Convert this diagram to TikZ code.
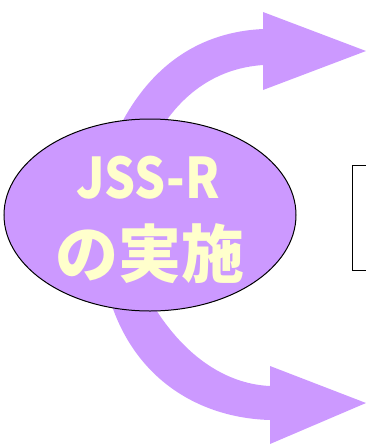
\documentclass[tikz,border=0pt]{standalone}
\usepackage{fontspec}
\newfontfamily\cjk{Noto Sans CJK JP}
\usetikzlibrary{shapes.geometric}
\definecolor{lav}{HTML}{CC99FF}
\definecolor{ltyel}{HTML}{FFFFCC}
\tikzset{
  band/.style={fill=lav, draw=none},
  oval/.style={ellipse, draw=black, line width=1pt, fill=lav, minimum width=292pt, minimum height=192pt, inner sep=0pt},
  lbl/.style={text=ltyel, font=\cjk\bfseries, inner sep=0pt, anchor=base}
}
\begin{document}
\begin{tikzpicture}[x=1pt,y=-1pt]
\useasboundingbox (0,0) rectangle (366,448);
\clip (0,0) rectangle (366,448);
% top arrow
\fill[band] (263,29) .. controls (200,32) and (150,65) .. (118,130)
  -- (160,130) .. controls (185,90) and (220,68) .. (263,65)
  -- (263,90) -- (366,51) -- (263,12) -- cycle;
% bottom arrow
\fill[band] (110,300) .. controls (135,380) and (200,418) .. (270,420)
  -- (270,444) -- (366,403) -- (270,366) -- (270,386)
  .. controls (225,384) and (182,355) .. (150,300) -- cycle;
% ellipse
\node[oval] (ell) at (150,215) {};
\node[lbl, font=\cjk\bfseries\fontsize{56}{60}\selectfont] (t1) at (148,198) {\scalebox{0.87}[1]{JSS-R}};
\node[lbl, font=\cjk\bfseries\fontsize{63}{66}\selectfont] (t2) at (150,277) {の実施};
% box at right
\node[draw=black, line width=1pt, minimum width=40pt, minimum height=105pt, inner sep=0pt, anchor=north west] (box) at (352,165) {};
\end{tikzpicture}
\end{document}
